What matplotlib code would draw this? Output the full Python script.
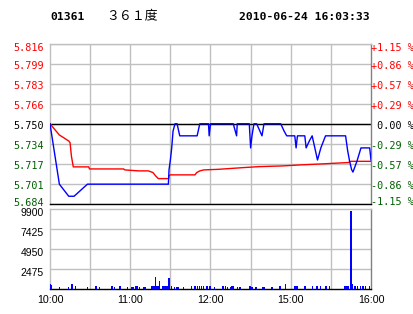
import numpy as np
import matplotlib
matplotlib.use("Agg")
import matplotlib.pyplot as plt
from matplotlib.transforms import ScaledTranslation

# minutes since 10:00 (trading minutes, lunch break removed)
price_t = [0, 7, 14, 18, 28, 88.5, 89, 90, 91, 92, 93.5, 95, 97, 110, 112, 118.5, 119, 120,
           137, 139.5, 140, 149, 150, 151, 152.5, 154.5, 158.5, 160, 172.5, 175, 177, 183,
           184, 185, 190.5, 191.5, 194, 196, 198, 200, 202.5, 206, 221, 222.5, 224, 225.5,
           226.5, 229.5, 232.5, 239, 240]
price = [5.75, 5.70, 5.69, 5.69, 5.70, 5.70, 5.712, 5.72, 5.73, 5.744, 5.75, 5.75, 5.74, 5.74,
         5.75, 5.75, 5.74, 5.75, 5.75, 5.74, 5.75, 5.75, 5.73, 5.74, 5.75, 5.75, 5.74, 5.75,
         5.75, 5.744, 5.74, 5.74, 5.73, 5.74, 5.74, 5.73, 5.736, 5.74, 5.73, 5.72, 5.73, 5.74,
         5.74, 5.728, 5.719, 5.712, 5.71, 5.719, 5.73, 5.73, 5.72]

avg_t = [0, 3.5, 7, 11, 14, 15, 16, 17.4, 29, 29.5, 55, 56, 66, 73.5, 77, 79, 81, 88.7, 89, 90,
         108.4, 109.7, 112, 115, 126, 144.5, 156, 174, 188, 204, 223, 225, 240]
avg = [5.75, 5.7453, 5.7407, 5.7379, 5.7357, 5.7343, 5.7233, 5.7143, 5.7143, 5.7126, 5.7126,
       5.7118, 5.711, 5.711, 5.7096, 5.7068, 5.7046, 5.7046, 5.707, 5.7077, 5.7077, 5.7096,
       5.711, 5.7118, 5.7123, 5.7137, 5.7145, 5.7151, 5.716, 5.7168, 5.7179, 5.7189, 5.7189]

vol_t = [0, 1, 7, 14, 16, 17, 19, 28, 34, 35, 37, 46, 47, 48, 52, 53, 58, 61, 62, 64, 65, 67,
         70, 71, 76, 77, 78, 79, 80, 81, 82, 84, 85, 86, 87, 88, 89, 91, 93, 95, 96, 100, 106,
         108, 109, 110, 112, 113, 115, 117, 118, 119, 120, 123, 129, 130, 131, 133, 135, 136,
         137, 140, 142, 149, 150, 151, 154, 159, 160, 166, 172, 176, 183, 184, 185, 190, 191,
         196, 199, 200, 202, 206, 207, 209, 220, 221, 222, 223, 225, 226, 228, 230, 232, 234,
         236, 239]
vol = [500, 400, 200, 200, 500, 500, 250, 200, 250, 250, 200, 250, 250, 200, 250, 250, 200, 200,
       200, 250, 250, 200, 200, 200, 250, 350, 300, 1450, 350, 250, 900, 350, 250, 250, 250, 250,
       1300, 300, 200, 200, 200, 200, 250, 350, 350, 250, 250, 300, 250, 250, 250, 250, 250, 200,
       250, 250, 250, 200, 200, 250, 250, 200, 200, 350, 350, 200, 200, 200, 200, 200, 300, 600,
       250, 250, 250, 250, 250, 250, 250, 250, 250, 250, 250, 250, 300, 350, 350, 350, 9700, 500,
       250, 250, 250, 250, 250, 250]

prev_close = 5.75
price_labels = ["5.684", "5.701", "5.717", "5.734", "5.750", "5.766", "5.783", "5.799", "5.816"]
pct_labels = ["-1.15 %", "-0.86 %", "-0.57 %", "-0.29 %", " 0.00 %",
              "+0.29 %", "+0.57 %", "+0.86 %", "+1.15 %"]
vol_ticks = [0, 2475, 4950, 7425, 9900]
vol_labels = ["", "2475", "4950", "7425", "9900"]
time_ticks = [0, 60, 120, 180, 240]
time_labels = ["10:00", "11:00", "12:00", "15:00", "16:00"]

RED = "#ff0000"
GREEN = "#006000"
BLUE = "#0000ff"
GRID = "#c0c0c0"

fig = plt.figure(figsize=(4.14, 3.14), dpi=100)
fig.patch.set_facecolor("white")

ax = fig.add_axes([50/414, 1-203.5/314, 321/414, 159.5/314])
axv = fig.add_axes([50/414, 1-288.5/314, 321/414, 79.5/314])

lo = prev_close - 0.066
hi = prev_close + 0.066


def shift(labels, dys):
    # move tick labels down by dy pixels
    for lab, dy in zip(labels, dys):
        lab.set_transform(lab.get_transform() + ScaledTranslation(0, -dy / 100, fig.dpi_scale_trans))


# price panel
for yv in np.linspace(lo, hi, 9):
    ax.axhline(yv, color=GRID, lw=1.0, zorder=1)
for xv in range(30, 240, 30):
    ax.axvline(xv, color=GRID, lw=1.0, zorder=1)
ax.axhline(prev_close, color="black", lw=1.0, zorder=2)
ax.plot(avg_t, avg, color=RED, lw=1.0, zorder=3)
ax.plot(price_t, price, color=BLUE, lw=1.0, zorder=4)
ax.set_xlim(0, 240)
ax.set_ylim(lo, hi)
ax.set_xticks([])
ax.set_yticks(np.linspace(lo, hi, 9))
ax.set_yticklabels(price_labels, family="DejaVu Sans Mono", fontsize=7.3)
for i, lab in enumerate(ax.get_yticklabels()):
    lab.set_color(GREEN if i < 4 else ("black" if i == 4 else RED))
ax.tick_params(axis="y", length=0, pad=4.5)
for s in ["left", "top"]:
    ax.spines[s].set_color(GRID)
ax.spines["right"].set_color("#808080")
ax.spines["bottom"].set_color("black")
for s in ax.spines.values():
    s.set_linewidth(1.0)

ax2 = ax.twinx()
ax2.set_ylim((lo - prev_close) / prev_close * 100, (hi - prev_close) / prev_close * 100)
ax2.set_yticks(np.linspace(ax2.get_ylim()[0], ax2.get_ylim()[1], 9))
ax2.set_yticklabels(pct_labels, family="DejaVu Sans Mono", fontsize=7.3)
for i, lab in enumerate(ax2.get_yticklabels()):
    lab.set_color(GREEN if i < 4 else ("black" if i == 4 else RED))
ax2.tick_params(axis="y", length=0, pad=0)
for s in ax2.spines.values():
    s.set_visible(False)

dys = [-2, 1, 1, 1, 1, 1, 1, 1, 3]
shift(ax.get_yticklabels(), dys)
shift(ax2.get_yticklabels(), dys)

# volume panel
for yv in vol_ticks[1:-1]:
    axv.axhline(yv, color=GRID, lw=1.0, zorder=1)
for xv in range(30, 240, 30):
    axv.axvline(xv, color=GRID, lw=1.0, zorder=1)
axv.bar(vol_t, vol, width=0.9, color=BLUE, linewidth=0, zorder=3)
axv.set_xlim(0, 240)
axv.set_ylim(0, 9900)
axv.set_yticks(vol_ticks)
axv.set_yticklabels(vol_labels, family="Liberation Sans", fontsize=7.5)
axv.set_xticks(time_ticks)
axv.set_xticklabels(time_labels, family="Liberation Sans", fontsize=7.7)
axv.tick_params(length=0, pad=4.5)
axv.tick_params(axis="x", pad=5)
shift(axv.get_yticklabels(), [3] * 5)
for s in ["left", "top"]:
    axv.spines[s].set_color(GRID)
axv.spines["right"].set_color("#808080")
axv.spines["bottom"].set_color("black")
for s in axv.spines.values():
    s.set_linewidth(1.0)

# header
fig.text(50/414, 1-17/314, "01361", family="DejaVu Sans Mono", weight="bold",
         fontsize=8.2, va="center", ha="left")
fig.text(106/414, 1-16/314, "３６１度", family=["Noto Sans CJK SC", "DejaVu Sans"],
         fontsize=9.3, va="center", ha="left")
fig.text(370/414, 1-17/314, "2010-06-24 16:03:33", family="DejaVu Sans Mono",
         weight="bold", fontsize=8.2, va="center", ha="right")

fig.savefig("out.png", dpi=100)
